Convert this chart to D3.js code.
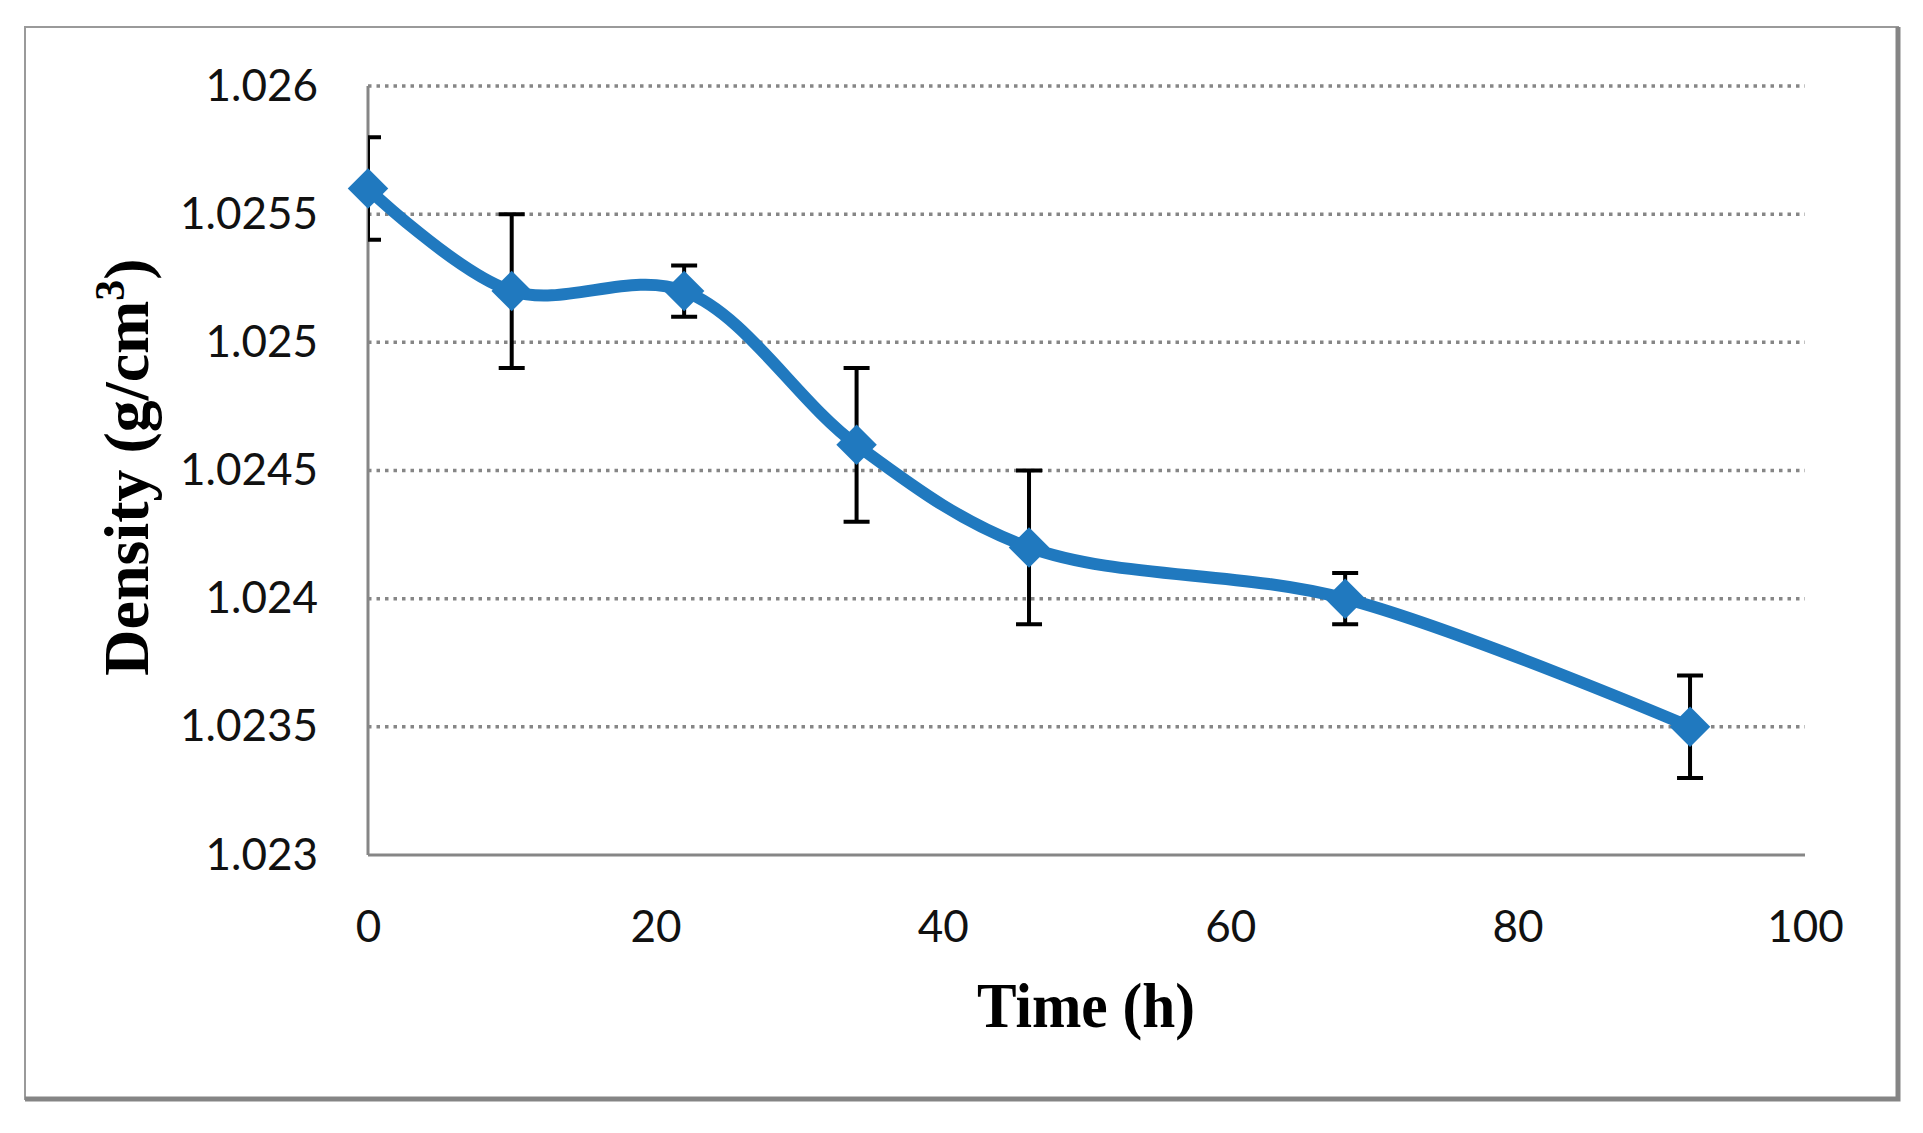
<!DOCTYPE html>
<html>
<head>
<meta charset="utf-8">
<script src="https://cdn.jsdelivr.net/npm/d3@7"></script>
<style>
  html, body { margin: 0; padding: 0; background: #fff; }
  svg { display: block; }
</style>
</head>
<body>
<svg id="chart" width="1923" height="1133"></svg>
<script>
// data
const times = [0, 10, 22, 34, 46, 68, 92];
const density = [1.0256, 1.0252, 1.0252, 1.0246, 1.0242, 1.0240, 1.0235];
const errors = [0.0002, 0.0003, 0.0001, 0.0003, 0.0003, 0.0001, 0.0002];
const xTicks = [0, 20, 40, 60, 80, 100];
const yTicks = [1.023, 1.0235, 1.024, 1.0245, 1.025, 1.0255, 1.026];

const blue = '#2079bf';
const gray = '#868686';

const svg = d3.select('#chart');

// outer chart frame (thin top/left, heavier right/bottom)
const frame = svg.append('g').attr('class', 'frame');
frame.append('rect')
    .attr('x', 25).attr('y', 27)
    .attr('width', 1873).attr('height', 1072)
    .attr('fill', '#fff')
    .attr('stroke', '#9a9a9a')
    .attr('stroke-width', 2);
frame.append('path')
    .attr('d', 'M1898,27 V1099 H25')
    .attr('fill', 'none')
    .attr('stroke', '#858585')
    .attr('stroke-width', 5);

const plot = { left: 368, right: 1805, top: 86, bottom: 855 };

const x = d3.scaleLinear().domain([0, 100]).range([plot.left, plot.right]);
const y = d3.scaleLinear().domain([1.023, 1.026]).range([plot.bottom, plot.top]);

// dotted gridlines
svg.append('g')
    .attr('class', 'grid')
    .selectAll('line')
    .data(yTicks.filter(d => d > 1.023))
    .join('line')
    .attr('x1', plot.left)
    .attr('x2', plot.right)
    .attr('y1', d => y(d))
    .attr('y2', d => y(d))
    .attr('stroke', gray)
    .attr('stroke-width', 3.5)
    .attr('stroke-dasharray', '3.5,5');

// axes
const yAxis = svg.append('g')
    .attr('transform', `translate(${plot.left},0)`)
    .call(d3.axisLeft(y).tickValues(yTicks).tickSize(0).tickPadding(50)
        .tickFormat(d => String(+d.toFixed(4))));
const xAxis = svg.append('g')
    .attr('transform', `translate(0,${plot.bottom})`)
    .call(d3.axisBottom(x).tickValues(xTicks).tickSize(0).tickPadding(56));

[yAxis, xAxis].forEach(ax => {
    ax.select('.domain').attr('stroke', gray).attr('stroke-width', 3);
    ax.selectAll('text')
        .attr('font-family', 'Lato, sans-serif')
        .attr('font-size', 44)
        .attr('fill', '#111');
});
yAxis.select('.domain').attr('d', `M0,${plot.top}V${plot.bottom}`);
xAxis.select('.domain').attr('d', `M${plot.left},0H${plot.right}`);

// error bars, clipped to the plot area
svg.append('clipPath').attr('id', 'plot-clip')
    .append('rect')
    .attr('x', plot.left).attr('y', 0)
    .attr('width', plot.right - plot.left + 40).attr('height', 1133);

const points = times.map((t, i) => ({ t, v: density[i], e: errors[i] }));
const capHalf = 13;

const bars = svg.append('g')
    .attr('class', 'error-bars')
    .attr('clip-path', 'url(#plot-clip)')
    .attr('stroke', '#000')
    .attr('stroke-width', 4);

bars.selectAll('path')
    .data(points)
    .join('path')
    .attr('fill', 'none')
    .attr('d', d => {
        const cx = x(d.t), top = y(d.v + d.e), bot = y(d.v - d.e);
        return `M${cx},${top}V${bot}` +
            `M${cx - capHalf},${top}H${cx + capHalf}` +
            `M${cx - capHalf},${bot}H${cx + capHalf}`;
    });

// smoothed line
const line = d3.line()
    .x(d => x(d.t))
    .y(d => y(d.v))
    .curve(d3.curveCatmullRom.alpha(0.5));

svg.append('path')
    .datum(points)
    .attr('fill', 'none')
    .attr('stroke', blue)
    .attr('stroke-width', 12)
    .attr('stroke-linejoin', 'round')
    .attr('d', line);

// diamond markers
svg.append('g')
    .selectAll('path')
    .data(points)
    .join('path')
    .attr('transform', d => `translate(${x(d.t)},${y(d.v)}) rotate(45)`)
    .attr('d', d3.symbol(d3.symbolSquare, 820))
    .attr('fill', blue);

// axis titles
svg.append('text')
    .attr('x', 1086)
    .attr('y', 1027)
    .attr('text-anchor', 'middle')
    .attr('font-family', '"Liberation Serif", "Times New Roman", serif')
    .attr('font-weight', 'bold')
    .attr('font-size', 64)
    .attr('textLength', 218)
    .attr('lengthAdjust', 'spacingAndGlyphs')
    .attr('fill', '#000')
    .text('Time (h)');

const yTitle = svg.append('text')
    .attr('transform', 'translate(148,467) rotate(-90)')
    .attr('text-anchor', 'middle')
    .attr('font-family', '"Liberation Serif", "Times New Roman", serif')
    .attr('font-weight', 'bold')
    .attr('font-size', 64)
    .attr('fill', '#000');
yTitle.append('tspan').text('Density (g/cm');
yTitle.append('tspan').attr('font-size', 42).attr('dy', -24).text('3');
yTitle.append('tspan').attr('dy', 24).text(')');
</script>
</body>
</html>
